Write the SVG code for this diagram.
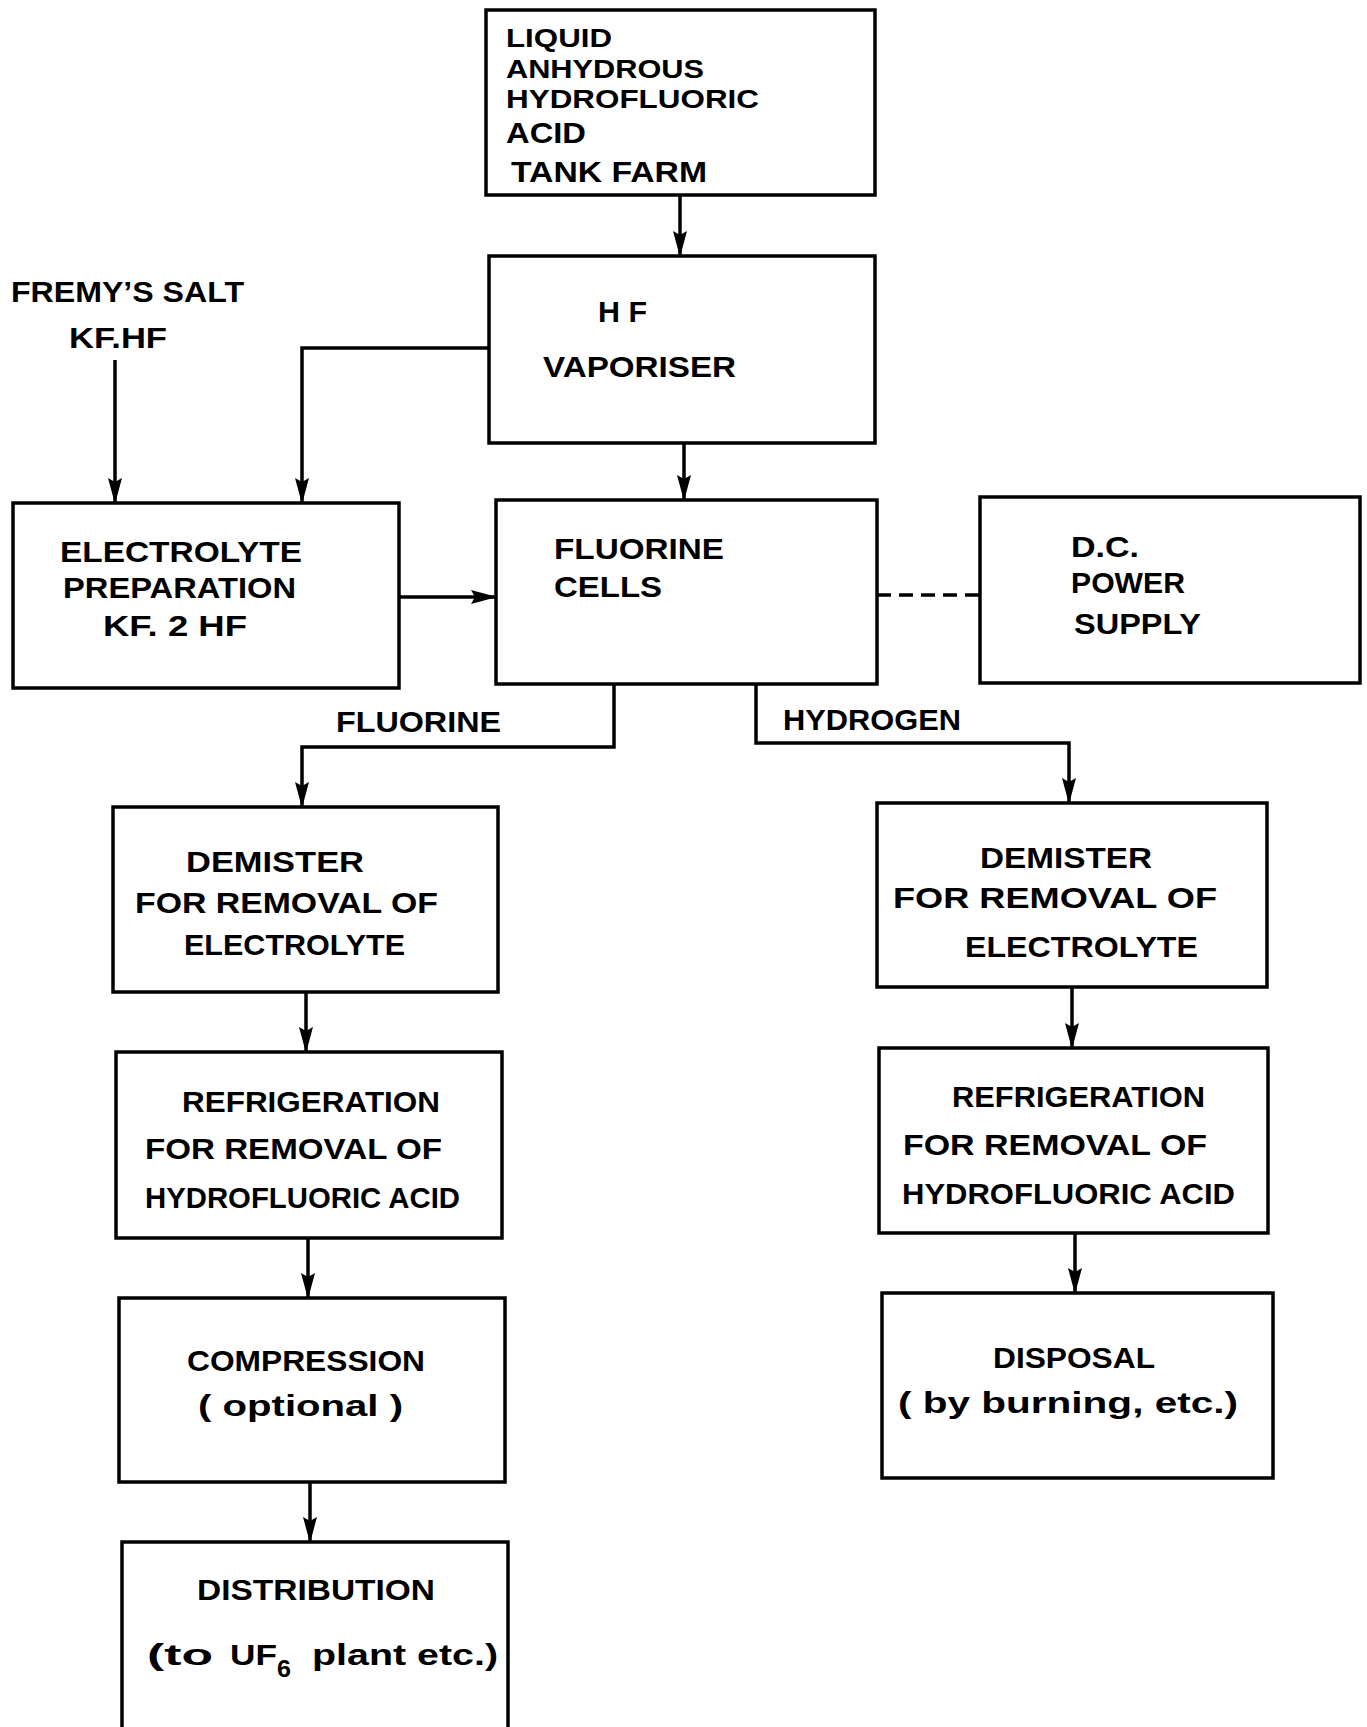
<svg xmlns="http://www.w3.org/2000/svg" width="1367" height="1727" viewBox="0 0 1367 1727">
<style>
.box{fill:#fff;stroke:#000;stroke-width:3.5}
.ln{fill:none;stroke:#000;stroke-width:3.5}
.dash{fill:none;stroke:#000;stroke-width:3.5;stroke-dasharray:14 8}
text{font-family:"Liberation Sans",Arial,sans-serif;font-weight:bold;font-size:30px;fill:#000}
.tight{font-size:26px}
</style>
<defs>
<marker id="arr" markerUnits="userSpaceOnUse" markerWidth="26" markerHeight="14" viewBox="0 0 26 14" refX="25" refY="7" orient="auto">
<path d="M0,0 L26,7 L0,14 L4,7 Z" fill="#000"/>
</marker>
</defs>
<rect width="1367" height="1727" fill="#fff"/>

<g id="connectors">
<line class="ln" x1="680" y1="195" x2="680" y2="256" marker-end="url(#arr)"/>
<line class="ln" x1="684" y1="443" x2="684" y2="500" marker-end="url(#arr)"/>
<polyline class="ln" points="489,348 302,348 302,503" marker-end="url(#arr)"/>
<line class="ln" x1="115" y1="360" x2="115" y2="503" marker-end="url(#arr)"/>
<line class="ln" x1="399" y1="597" x2="496" y2="597" marker-end="url(#arr)"/>
<line class="dash" x1="877" y1="595" x2="980" y2="595"/>
<polyline class="ln" points="614,684 614,747 302,747 302,807" marker-end="url(#arr)"/>
<polyline class="ln" points="756,684 756,743 1069,743 1069,803" marker-end="url(#arr)"/>
<line class="ln" x1="306" y1="992" x2="306" y2="1052" marker-end="url(#arr)"/>
<line class="ln" x1="308" y1="1238" x2="308" y2="1298" marker-end="url(#arr)"/>
<line class="ln" x1="310" y1="1482" x2="310" y2="1542" marker-end="url(#arr)"/>
<line class="ln" x1="1072" y1="987" x2="1072" y2="1048" marker-end="url(#arr)"/>
<line class="ln" x1="1075" y1="1233" x2="1075" y2="1293" marker-end="url(#arr)"/>
<text x="336" y="732" textLength="165" lengthAdjust="spacingAndGlyphs">FLUORINE</text>
<text x="783" y="730" textLength="178" lengthAdjust="spacingAndGlyphs">HYDROGEN</text>
</g>

<g id="fremy">
<text x="11" y="302" textLength="233" lengthAdjust="spacingAndGlyphs">FREMY’S SALT</text>
<text x="69" y="348" textLength="98" lengthAdjust="spacingAndGlyphs">KF.HF</text>
</g>

<g id="tankfarm">
<rect class="box" x="486" y="10" width="389" height="185"/>
<text class="tight" x="506" y="47" textLength="106" lengthAdjust="spacingAndGlyphs">LIQUID</text>
<text class="tight" x="506" y="78" textLength="198" lengthAdjust="spacingAndGlyphs">ANHYDROUS</text>
<text class="tight" x="506" y="108" textLength="253" lengthAdjust="spacingAndGlyphs">HYDROFLUORIC</text>
<text x="506" y="143" textLength="80" lengthAdjust="spacingAndGlyphs">ACID</text>
<text x="511" y="182" textLength="196" lengthAdjust="spacingAndGlyphs">TANK FARM</text>
</g>

<g id="vaporiser">
<rect class="box" x="489" y="256" width="386" height="187"/>
<text x="598" y="322" textLength="49" lengthAdjust="spacingAndGlyphs">H F</text>
<text x="543" y="377" textLength="193" lengthAdjust="spacingAndGlyphs">VAPORISER</text>
</g>

<g id="electrolyte">
<rect class="box" x="13" y="503" width="386" height="185"/>
<text x="60" y="562" textLength="242" lengthAdjust="spacingAndGlyphs">ELECTROLYTE</text>
<text x="63" y="598" textLength="233" lengthAdjust="spacingAndGlyphs">PREPARATION</text>
<text x="103" y="636" textLength="144" lengthAdjust="spacingAndGlyphs">KF. 2 HF</text>
</g>

<g id="cells">
<rect class="box" x="496" y="500" width="381" height="184"/>
<text x="554" y="559" textLength="170" lengthAdjust="spacingAndGlyphs">FLUORINE</text>
<text x="554" y="597" textLength="108" lengthAdjust="spacingAndGlyphs">CELLS</text>
</g>

<g id="dcpower">
<rect class="box" x="980" y="497" width="380" height="186"/>
<text x="1071" y="557" textLength="68" lengthAdjust="spacingAndGlyphs">D.C.</text>
<text x="1071" y="593" textLength="114" lengthAdjust="spacingAndGlyphs">POWER</text>
<text x="1074" y="634" textLength="127" lengthAdjust="spacingAndGlyphs">SUPPLY</text>
</g>

<g id="demister-f">
<rect class="box" x="113" y="807" width="385" height="185"/>
<text x="186" y="872" textLength="178" lengthAdjust="spacingAndGlyphs">DEMISTER</text>
<text x="135" y="913" textLength="303" lengthAdjust="spacingAndGlyphs">FOR  REMOVAL  OF</text>
<text x="184" y="955" textLength="221" lengthAdjust="spacingAndGlyphs">ELECTROLYTE</text>
</g>

<g id="refrig-f">
<rect class="box" x="116" y="1052" width="386" height="186"/>
<text x="182" y="1112" textLength="258" lengthAdjust="spacingAndGlyphs">REFRIGERATION</text>
<text x="145" y="1159" textLength="297" lengthAdjust="spacingAndGlyphs">FOR  REMOVAL  OF</text>
<text x="145" y="1208" textLength="315" lengthAdjust="spacingAndGlyphs">HYDROFLUORIC  ACID</text>
</g>

<g id="compression">
<rect class="box" x="119" y="1298" width="386" height="184"/>
<text x="187" y="1371" textLength="238" lengthAdjust="spacingAndGlyphs">COMPRESSION</text>
<text x="198" y="1416" textLength="205" lengthAdjust="spacingAndGlyphs">( optional )</text>
</g>

<g id="distribution">
<rect class="box" x="122" y="1542" width="386" height="200"/>
<text x="197" y="1600" textLength="238" lengthAdjust="spacingAndGlyphs">DISTRIBUTION</text>
<text x="147" y="1665" textLength="66" lengthAdjust="spacingAndGlyphs">(to</text>
<text x="230" y="1665" textLength="47" lengthAdjust="spacingAndGlyphs">UF</text>
<text x="277" y="1677" textLength="14" lengthAdjust="spacingAndGlyphs" style="font-size:24px">6</text>
<text x="312" y="1665" textLength="186" lengthAdjust="spacingAndGlyphs">plant  etc.)</text>
</g>

<g id="demister-h">
<rect class="box" x="877" y="803" width="390" height="184"/>
<text x="980" y="868" textLength="172" lengthAdjust="spacingAndGlyphs">DEMISTER</text>
<text x="893" y="908" textLength="324" lengthAdjust="spacingAndGlyphs">FOR  REMOVAL  OF</text>
<text x="965" y="957" textLength="233" lengthAdjust="spacingAndGlyphs">ELECTROLYTE</text>
</g>

<g id="refrig-h">
<rect class="box" x="879" y="1048" width="389" height="185"/>
<text x="952" y="1107" textLength="253" lengthAdjust="spacingAndGlyphs">REFRIGERATION</text>
<text x="903" y="1155" textLength="304" lengthAdjust="spacingAndGlyphs">FOR  REMOVAL  OF</text>
<text x="902" y="1204" textLength="333" lengthAdjust="spacingAndGlyphs">HYDROFLUORIC  ACID</text>
</g>

<g id="disposal">
<rect class="box" x="882" y="1293" width="391" height="185"/>
<text x="993" y="1368" textLength="162" lengthAdjust="spacingAndGlyphs">DISPOSAL</text>
<text x="898" y="1413" textLength="340" lengthAdjust="spacingAndGlyphs">( by  burning, etc.)</text>
</g>
</svg>
